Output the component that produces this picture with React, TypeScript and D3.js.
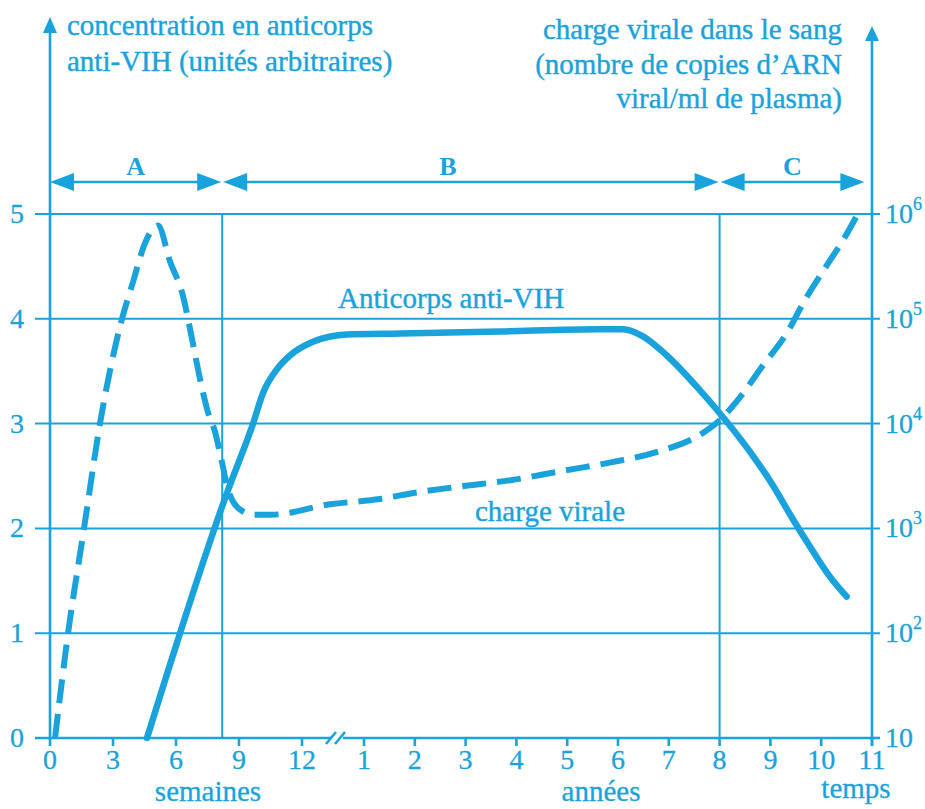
import * as d3 from "d3";

const weekTicks = [0, 3, 6, 9, 12];
const yearTicks = [1, 2, 3, 4, 5, 6, 7, 8, 9, 10, 11];
const antibodyTicks = [0, 1, 2, 3, 4, 5];
const viralTicks = [1, 2, 3, 4, 5, 6]; // exposants de 10

// [semaines, concentration] puis [années, concentration]
const antibodyWeeks: [number, number][] = [
  [4.62, 0], [8.43, 2.34], [9.67, 3.0], [10.14, 3.29], [10.81, 3.52],
  [11.43, 3.65], [12.52, 3.78], [14.14, 3.85],
];
const antibodyYears: [number, number][] = [
  [1.71, 3.86], [3.68, 3.88], [5.65, 3.9], [6.1, 3.9], [6.5, 3.83], [6.96, 3.65],
  [7.61, 3.32], [7.95, 3.13], [8.6, 2.73], [9.05, 2.41], [9.44, 2.09], [9.84, 1.78],
  [10.17, 1.54], [10.5, 1.35],
];

// [semaines, log10 copies/ml] puis [années, log10 copies/ml]
const viralWeeks: [number, number][] = [
  [0.24, 1.0], [0.86, 2.0], [1.62, 3.0], [2.38, 4.0], [3.43, 5.0], [3.95, 5.35],
  [4.52, 5.72], [5.14, 5.89], [5.71, 5.55], [6.33, 5.22], [6.76, 4.81], [7.14, 4.43],
  [7.52, 4.11], [7.86, 3.92], [8.19, 3.63], [8.48, 3.37], [9.05, 3.18], [9.76, 3.13],
  [10.5, 3.13], [13.33, 3.23],
];
const viralYears: [number, number][] = [
  [1.31, 3.28], [2.0, 3.34], [2.89, 3.4], [3.89, 3.46], [4.92, 3.55], [5.86, 3.63],
  [6.77, 3.73], [7.67, 3.91], [7.95, 4.01], [8.4, 4.25], [8.83, 4.54], [9.33, 4.87],
  [9.68, 5.18], [10.11, 5.51], [10.43, 5.75], [10.72, 6.0],
];

const phaseLabels = ["A", "B", "C"];
const phaseBounds = [{ week: 0 }, { week: 8.2 }, { year: 8 }, { year: 10.85 }];

const BLUE = "#1aa2dc";
const SERIF = "Liberation Serif, Times New Roman, Times, DejaVu Serif, serif";

const xW = d3.scaleLinear().domain([0, 12]).range([50, 302]);
const xY = d3.scaleLinear().domain([1, 11]).range([364, 872]);
const yL = d3.scaleLinear().domain([0, 5]).range([738, 214]);
const yR = d3.scaleLog().domain([10, 1e6]).range([738, 214]);

const xOf = (p: { week?: number; year?: number }) =>
  p.week !== undefined ? xW(p.week) : xY(p.year as number);

const line = d3.line<[number, number]>().curve(d3.curveMonotoneX);

export default function App() {
  const antibodyPts: [number, number][] = [
    ...antibodyWeeks.map(([t, v]) => [xW(t), yL(v)] as [number, number]),
    ...antibodyYears.map(([t, v]) => [xY(t), yL(v)] as [number, number]),
  ];
  const viralPts: [number, number][] = [
    ...viralWeeks.map(([t, v]) => [xW(t), yR(10 ** v)] as [number, number]),
    ...viralYears.map(([t, v]) => [xY(t), yR(10 ** v)] as [number, number]),
  ];

  const x0 = xW(0);
  const xEnd = xY(11);
  const yBase = yL(0);
  const yTop = yL(5);
  const arrowY = 182;
  const breakX = (xW(12) + xY(1)) / 2 + 4;

  return (
    <>
      <style>{`body{margin:0}`}</style>
      <svg width={925} height={809} style={{ display: "block", background: "#fff", fontFamily: SERIF }}>
        <g fill={BLUE} fontSize={29} stroke={BLUE} strokeWidth={0.4}>
          <text x={67} y={35}>concentration en anticorps</text>
          <text x={67} y={71}>anti-VIH (unités arbitraires)</text>
          <text x={842} y={39} textAnchor="end">charge virale dans le sang</text>
          <text x={842} y={74} textAnchor="end">(nombre de copies d’ARN</text>
          <text x={842} y={108} textAnchor="end">viral/ml de plasma)</text>
        </g>

        {/* grille */}
        <g stroke={BLUE} strokeWidth={2}>
          {antibodyTicks.slice(1).map((t) => (
            <line key={t} x1={35} x2={xEnd + 8} y1={yL(t)} y2={yL(t)} />
          ))}
          {phaseBounds.slice(1, 3).map((b, i) => (
            <line key={i} x1={xOf(b)} x2={xOf(b)} y1={yTop} y2={yBase} />
          ))}
        </g>

        {/* axes */}
        <g stroke={BLUE} strokeWidth={2.6} fill="none">
          <line x1={x0} x2={x0} y1={yBase + 2} y2={28} />
          <line x1={xEnd} x2={xEnd} y1={yBase + 8} y2={36} />
          <line x1={35} x2={breakX - 6} y1={yBase} y2={yBase} />
          <line x1={breakX + 6} x2={xEnd} y1={yBase} y2={yBase} />
          <line x1={xEnd} x2={xEnd + 8} y1={yBase} y2={yBase} />
          <line x1={breakX - 11} x2={breakX - 1} y1={yBase + 6} y2={yBase - 6} />
          <line x1={breakX - 2} x2={breakX + 8} y1={yBase + 6} y2={yBase - 6} />
          {weekTicks.map((t) => (
            <line key={"w" + t} x1={xW(t)} x2={xW(t)} y1={yBase} y2={yBase + 8} />
          ))}
          {yearTicks.map((t) => (
            <line key={"y" + t} x1={xY(t)} x2={xY(t)} y1={yBase} y2={yBase + 8} />
          ))}
        </g>
        <g fill={BLUE}>
          <polygon points={`${x0},17 ${x0 - 7},33 ${x0 + 7},33`} />
          <polygon points={`${xEnd},26 ${xEnd - 7},41 ${xEnd + 7},41`} />
        </g>

        {/* phases */}
        <g fill={BLUE} stroke={BLUE}>
          {phaseLabels.map((lab, i) => {
            const a = xOf(phaseBounds[i]) + (i === 0 ? 0 : 1);
            const b = xOf(phaseBounds[i + 1]) - (i === 2 ? 0 : 1);
            const mid = (a + b) / 2 + (i === 1 ? -23 : 0);
            return (
              <g key={lab}>
                <line x1={a + 10} x2={b - 10} y1={arrowY} y2={arrowY} strokeWidth={2.6} />
                <polygon stroke="none" points={`${a},${arrowY} ${a + 24},${arrowY - 9} ${a + 24},${arrowY + 9}`} />
                <polygon stroke="none" points={`${b},${arrowY} ${b - 24},${arrowY - 9} ${b - 24},${arrowY + 9}`} />
                <text x={mid} y={175} stroke="none" textAnchor="middle" fontSize={26} fontWeight="bold">
                  {lab}
                </text>
              </g>
            );
          })}
        </g>

        {/* graduations */}
        <g fill={BLUE} fontSize={28} stroke={BLUE} strokeWidth={0.3}>
          {antibodyTicks.map((t) => (
            <text key={t} x={17} y={yL(t) + 9} textAnchor="middle">{t}</text>
          ))}
          {viralTicks.map((e) => (
            <text key={e} x={885} y={yR(10 ** e) + 9}>
              10
              {e > 1 && (
                <tspan fontSize={18} dy={-13}>{e}</tspan>
              )}
            </text>
          ))}
          {weekTicks.map((t) => (
            <text key={"w" + t} x={xW(t)} y={769} textAnchor="middle">{t}</text>
          ))}
          {yearTicks.map((t) => (
            <text key={"y" + t} x={xY(t)} y={769} textAnchor="middle">{t}</text>
          ))}
          <text x={208} y={801} textAnchor="middle" fontSize={29}>semaines</text>
          <text x={601} y={801} textAnchor="middle" fontSize={29}>années</text>
          <text x={856} y={798} textAnchor="middle" fontSize={29}>temps</text>
        </g>

        {/* courbes */}
        <path d={line(viralPts) ?? ""} fill="none" stroke={BLUE} strokeWidth={6} strokeDasharray="24 11" />
        <path d={line(antibodyPts) ?? ""} fill="none" stroke={BLUE} strokeWidth={6.5} strokeLinecap="round" />

        <g fill={BLUE} fontSize={29} stroke={BLUE} strokeWidth={0.4}>
          <text x={338} y={308}>Anticorps anti-VIH</text>
          <text x={475} y={521}>charge virale</text>
        </g>
      </svg>
    </>
  );
}
